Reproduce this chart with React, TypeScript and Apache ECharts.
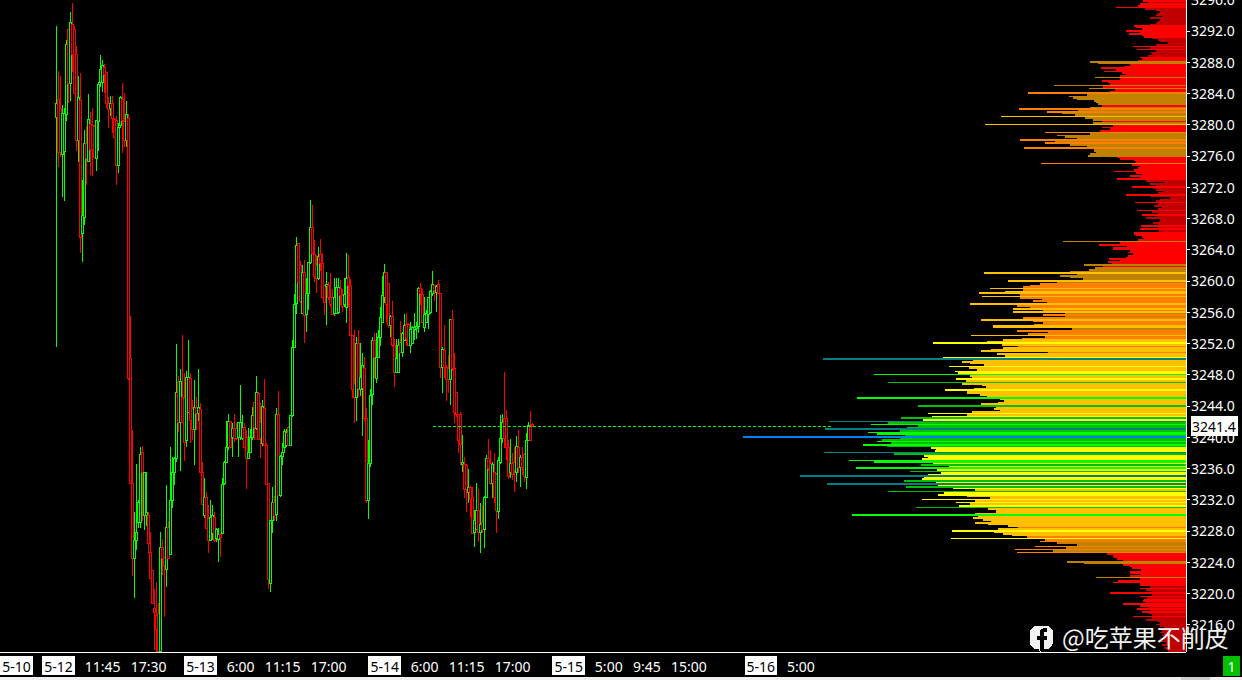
import React, { useEffect, useRef } from "react";
import * as echarts from "echarts";

// Time-axis ticks: slot on the 2px-per-bar category axis, and its text
const tickSlots = [8, 29, 51, 74, 100, 120, 141, 164, 192, 212, 233, 256, 284, 304, 323, 344, 380, 400];
const tickTexts = ["5-10", "5-12", "11:45", "17:30", "5-13", "6:00", "11:15", "17:00", "5-14", "6:00", "11:15", "17:00", "5-15", "5:00", "9:45", "15:00", "5-16", "5:00"];
const dateTicks = ["5-10", "5-12", "5-13", "5-14", "5-15", "5-16"];
const slotCount = 593;
const firstCandleSlot = 28;

const priceTicks = [3216, 3220, 3224, 3228, 3232, 3236, 3240, 3244, 3248, 3252, 3256, 3260, 3264, 3268, 3272, 3276, 3280, 3284, 3288, 3292, 3296];
const lastPrice = 3241.4;
const lastLineSlots = [216, 415];

// open, close, low, high
const candles: number[][] = [
  [3280.9,3282.7,3251.5,3292.6],[3283.2,3276.4,3274.5,3286.9],[3282.1,3276.4,3275.9,3286.2],[3276.1,3281.4,3270.7,3282.5],
  [3276.6,3281.4,3270.2,3282.1],[3281.3,3290.3,3280.4,3290.8],[3292.1,3285.3,3282.7,3292.1],[3285.3,3293.0,3283.0,3294.4],
  [3292.8,3288.9,3286.7,3295.5],[3292.2,3284.0,3284.0,3292.6],[3288.9,3277.9,3276.6,3290.0],[3277.9,3283.4,3275.2,3286.2],
  [3283.1,3265.6,3263.6,3286.6],[3266.1,3268.4,3262.4,3272.9],[3268.1,3277.6,3267.1,3279.3],[3277.6,3275.7,3272.2,3279.8],
  [3275.3,3280.7,3275.2,3283.9],[3280.0,3276.8,3273.5,3281.6],[3279.9,3276.8,3273.4,3282.1],[3279.8,3275.8,3275.8,3279.9],
  [3275.7,3280.5,3274.1,3280.5],[3280.4,3285.1,3276.6,3285.4],[3285.4,3287.1,3284.8,3288.9],[3285.4,3287.6,3284.1,3288.2],
  [3287.3,3286.4,3284.0,3287.7],[3286.6,3282.7,3282.1,3286.6],[3282.7,3281.9,3279.6,3283.5],[3282.1,3282.7,3281.1,3283.7],
  [3282.7,3280.8,3278.9,3283.6],[3280.7,3278.4,3278.4,3280.8],[3280.5,3274.8,3272.2,3281.1],[3274.8,3279.6,3273.8,3280.2],
  [3279.9,3283.4,3279.6,3283.6],[3283.2,3280.5,3276.3,3285.3],[3280.4,3277.9,3277.1,3284.0],[3278.0,3281.3,3277.1,3283.0],
  [3280.8,3247.5,3247.3,3281.4],[3250.1,3234.1,3234.1,3255.5],[3234.1,3224.5,3222.2,3240.9],[3224.5,3226.8,3219.4,3230.4],
  [3226.8,3227.8,3225.5,3236.5],[3229.0,3231.6,3228.3,3231.9],[3229.1,3237.8,3228.3,3238.7],[3238.0,3235.4,3229.3,3238.8],
  [3230.0,3235.4,3228.1,3235.4],[3230.0,3230.4,3228.6,3235.5],[3229.9,3226.4,3225.2,3230.4],[3225.2,3221.9,3221.9,3227.8],
  [3222.9,3218.7,3218.7,3222.9],[3218.1,3217.6,3212.7,3220.6],[3217.2,3215.3,3212.5,3221.4],[3217.4,3212.5,3212.5,3218.8],
  [3212.5,3225.9,3212.5,3227.8],[3225.8,3224.5,3222.3,3227.0],[3224.6,3223.6,3216.9,3224.6],[3223.1,3228.4,3220.8,3233.8],
  [3228.4,3224.5,3224.5,3229.3],[3224.9,3231.9,3224.9,3238.7],[3231.9,3235.4,3230.9,3237.4],[3235.4,3237.3,3233.8,3237.4],
  [3237.3,3245.7,3236.8,3251.9],[3247.0,3241.9,3240.6,3247.8],[3241.9,3247.1,3235.6,3248.7],[3245.0,3241.9,3241.8,3253.0],
  [3245.0,3239.3,3236.9,3248.2],[3239.5,3247.6,3238.7,3248.5],[3243.2,3247.6,3243.2,3252.4],[3247.5,3242.1,3239.2,3248.2],
  [3243.7,3241.0,3239.6,3244.7],[3241.0,3243.8,3236.4,3247.3],[3243.8,3243.0,3240.9,3245.1],[3243.0,3243.8,3242.1,3248.7],
  [3243.5,3235.4,3235.4,3244.4],[3235.4,3231.3,3231.3,3236.8],[3230.0,3232.2,3229.6,3234.7],[3232.2,3228.3,3228.3,3232.9],
  [3229.6,3226.7,3225.1,3231.3],[3226.7,3229.7,3226.7,3231.9],[3227.7,3229.9,3226.8,3231.3],[3229.7,3226.7,3226.5,3230.4],
  [3227.0,3228.1,3226.5,3228.4],[3226.9,3227.5,3224.0,3228.4],[3227.5,3227.2,3224.6,3227.7],[3227.7,3233.9,3227.7,3234.7],
  [3234.1,3236.8,3233.9,3236.9],[3236.8,3238.7,3236.8,3242.1],[3238.7,3242.0,3238.3,3243.0],[3242.0,3238.7,3238.7,3242.1],
  [3240.0,3241.1,3237.4,3241.8],[3241.1,3239.8,3239.3,3242.9],[3241.1,3239.8,3239.6,3241.8],[3240.0,3241.9,3237.5,3241.9],
  [3240.0,3241.8,3239.6,3246.7],[3239.8,3241.2,3239.6,3242.8],[3241.2,3238.7,3238.7,3241.8],[3240.0,3237.3,3233.3,3240.9],
  [3237.3,3238.0,3237.3,3241.1],[3238.0,3240.0,3237.9,3241.0],[3240.0,3242.8,3239.6,3243.8],[3244.4,3241.2,3239.6,3244.4],
  [3241.1,3245.7,3240.9,3247.8],[3245.6,3239.7,3239.6,3245.7],[3241.8,3239.8,3237.3,3244.4],[3239.2,3243.9,3238.9,3244.7],
  [3243.7,3238.9,3238.9,3247.4],[3238.9,3233.9,3233.8,3239.2],[3234.1,3221.8,3220.5,3234.1],[3221.3,3229.3,3220.1,3229.3],
  [3229.3,3231.6,3227.7,3233.6],[3231.6,3230.0,3229.3,3232.5],[3230.1,3242.9,3229.3,3243.7],[3242.9,3232.5,3232.5,3245.9],
  [3232.5,3237.5,3232.3,3237.7],[3237.5,3238.0,3236.4,3239.2],[3238.7,3240.7,3238.0,3241.0],[3238.9,3240.6,3238.7,3241.0],
  [3241.2,3238.9,3238.9,3241.4],[3238.9,3242.7,3238.9,3242.7],[3242.7,3251.4,3242.5,3252.4],[3251.5,3257.0,3251.5,3258.3],
  [3257.1,3264.5,3255.8,3265.6],[3264.8,3259.8,3259.8,3264.8],[3261.9,3257.4,3257.1,3262.5],[3255.8,3261.0,3255.8,3262.0],
  [3261.0,3255.6,3252.0,3262.6],[3255.7,3258.4,3253.4,3260.4],[3258.4,3262.4,3256.3,3262.4],[3262.4,3266.8,3262.2,3270.4],
  [3266.8,3263.5,3263.5,3269.7],[3263.3,3260.6,3259.8,3265.2],[3261.9,3260.3,3258.4,3263.3],[3260.3,3263.1,3260.1,3264.3],
  [3263.3,3262.2,3261.3,3265.3],[3262.2,3257.9,3257.8,3263.6],[3259.4,3257.2,3255.6,3259.4],[3259.3,3259.5,3254.3,3261.1],
  [3259.4,3257.9,3257.5,3259.8],[3257.9,3256.9,3256.6,3261.0],[3257.9,3255.7,3255.6,3259.0],[3255.8,3257.9,3255.5,3260.3],
  [3255.8,3259.2,3255.8,3260.4],[3256.0,3259.2,3255.8,3260.4],[3259.0,3258.1,3256.9,3260.1],[3258.1,3256.7,3256.0,3258.9],
  [3256.9,3258.3,3256.6,3260.3],[3256.6,3260.3,3254.6,3263.5],[3260.4,3259.4,3256.6,3263.3],[3259.4,3253.0,3253.0,3260.2],
  [3253.0,3246.1,3245.0,3253.0],[3246.9,3245.1,3241.8,3253.7],[3245.1,3252.0,3242.1,3252.8],[3252.0,3246.2,3245.1,3253.7],
  [3246.1,3247.6,3245.3,3252.0],[3246.2,3249.1,3240.1,3250.8],[3248.8,3242.4,3242.1,3250.2],[3242.4,3231.9,3231.5,3243.7],
  [3231.9,3236.6,3229.5,3239.6],[3236.6,3245.3,3236.1,3246.1],[3245.5,3252.4,3244.1,3252.8],[3252.4,3250.2,3247.5,3253.3],
  [3247.5,3250.2,3246.9,3253.3],[3250.2,3252.8,3250.2,3253.7],[3252.8,3255.3,3251.7,3256.7],[3254.7,3258.1,3254.7,3260.6],
  [3257.9,3261.1,3257.1,3262.1],[3261.0,3256.9,3254.7,3261.1],[3259.7,3254.3,3253.9,3259.7],[3254.3,3255.4,3252.8,3255.6],
  [3255.4,3251.7,3251.5,3257.4],[3251.7,3248.2,3246.4,3252.6],[3248.3,3250.1,3248.2,3252.6],[3248.3,3251.7,3248.2,3252.6],
  [3252.1,3250.8,3250.7,3254.8],[3250.8,3253.3,3250.3,3253.4],[3252.3,3254.3,3252.3,3255.7],[3254.4,3252.6,3251.7,3255.9],
  [3254.4,3251.7,3251.7,3254.6],[3251.7,3253.7,3250.8,3254.7],[3252.0,3254.0,3252.0,3254.2],[3253.7,3254.0,3252.4,3255.9],
  [3253.9,3254.2,3252.6,3254.7],[3254.2,3259.0,3253.3,3259.2],[3259.0,3258.4,3256.9,3259.7],[3258.3,3254.6,3254.6,3259.0],
  [3254.0,3255.7,3253.4,3257.9],[3254.7,3255.8,3254.6,3256.3],[3255.7,3257.9,3253.8,3257.9],[3256.0,3258.6,3255.7,3258.8],
  [3258.4,3259.5,3258.1,3261.3],[3259.4,3258.8,3257.4,3259.5],[3258.5,3259.3,3256.0,3259.4],[3259.5,3258.4,3258.4,3260.1],
  [3258.4,3248.9,3247.6,3258.4],[3248.9,3251.2,3245.6,3251.5],[3251.1,3248.9,3247.6,3254.3],[3248.9,3247.3,3244.6,3249.2],
  [3248.8,3247.3,3245.6,3250.5],[3247.3,3255.1,3244.1,3255.1],[3255.1,3248.8,3248.5,3256.2],[3248.8,3243.2,3241.8,3250.8],
  [3245.7,3242.9,3242.5,3245.7],[3242.9,3239.6,3238.0,3243.0],[3242.9,3239.1,3236.4,3243.2],[3236.5,3236.8,3235.5,3240.3],
  [3236.5,3233.3,3232.2,3237.4],[3236.4,3233.3,3230.4,3236.6],[3232.9,3233.6,3231.6,3235.9],[3233.6,3232.0,3229.7,3233.7],
  [3232.3,3227.7,3227.7,3233.6],[3227.8,3229.3,3225.9,3230.6],[3228.1,3230.6,3228.1,3234.1],[3230.6,3227.8,3226.5,3233.4],
  [3227.8,3228.8,3225.2,3231.5],[3229.0,3228.1,3227.7,3231.3],[3228.2,3232.3,3225.8,3232.4],[3232.3,3237.3,3232.2,3237.7],
  [3237.3,3236.0,3235.7,3239.8],[3236.6,3234.1,3233.8,3238.4],[3234.1,3236.5,3232.2,3236.8],[3235.4,3232.2,3231.5,3237.9],
  [3235.2,3230.6,3227.7,3235.4],[3230.5,3237.0,3229.5,3237.4],[3236.8,3239.8,3236.6,3242.8],[3239.8,3241.9,3239.2,3243.0],
  [3242.4,3239.8,3238.6,3248.3],[3242.4,3238.7,3237.0,3243.5],[3238.7,3235.0,3234.6,3239.6],[3235.4,3236.6,3234.8,3239.7],
  [3236.6,3235.2,3234.5,3237.9],[3236.8,3235.7,3232.9,3238.7],[3235.4,3238.8,3234.2,3240.1],[3238.7,3236.1,3235.4,3240.9],
  [3236.1,3237.4,3233.6,3237.7],[3237.4,3236.1,3235.1,3238.7],[3237.7,3235.0,3234.3,3238.0],[3234.8,3239.5,3233.3,3240.5],
  [3239.5,3241.5,3239.5,3241.9],[3241.4,3239.6,3239.5,3243.3],[3241.6,3241.4,3241.3,3241.8],
];

// Volume at each 0.2 price step, from the top level down (five per whole price)
const topLevel = 3296;
const levelStep = 0.2;
const profileVolumes = [
  42,43,38,46,48, 70,41,30,26,28, 30,24,36,26,28, 30,36,52,50,44, 60,46,57,44,42,
  34,28,26,18,30, 53,36,49,30,36, 34,38,46,44,48, 96,88,56,62,85, 70,82,64,60,66,
  91,66,84,78,76, 132,83,97,71,76, 158,99,117,113,109, 92,90,88,84,96, 167,108,139,124,111,
  185,101,93,84,93, 201,73,84,76,86, 141,96,129,121,109, 166,131,141,116,99, 162,92,92,90,96,
  98,69,66,52,50, 145,54,46,48,52, 72,50,44,56,46, 69,40,22,36,30, 54,33,30,23,28,
  60,36,16,26,30, 51,28,32,24,28, 49,34,28,44,28, 40,26,27,33,28, 45,28,46,27,52,
  52,50,44,42,48, 123,66,87,59,73, 73,56,58,53,58, 60,77,66,78,74, 102,83,91,97,116,
  202,109,126,116,103, 178,129,146,156,163, 196,163,181,207,166, 204,166,144,153,139, 216,169,156,173,143,
  173,121,143,121,163, 205,153,143,152,193, 193,114,169,138,158, 215,141,164,183,199, 253,184,168,183,195,
  205,138,189,181,243, 363,213,224,216,202, 237,217,209,231,228, 312,216,214,230,220, 298,224,204,200,212,
  241,219,219,206,199, 329,186,182,188,205, 268,190,192,186,214, 258,219,254,285,263, 357,298,315,268,279,
  361,286,318,309,281, 443,286,304,309,295, 323,299,255,250,251, 362,292,262,258,264, 337,312,253,265,237,
  330,249,276,245,258, 386,262,264,282,250, 359,248,280,233,211, 298,242,248,219,196, 264,211,230,216,227,
  270,198,190,190,211, 334,208,213,203,195, 211,198,178,168,188, 234,192,183,174,159, 235,141,146,129,109,
  151,120,171,133,169, 79,73,72,69,63, 119,102,63,56,54, 45,56,56,46,56, 90,46,68,73,46,
  46,36,46,40,34, 76,34,46,39,42, 43,40,63,46,38, 49,36,44,38,34, 53,34,40,29,26,
  30,26,22,28,24, 26,22,24,20,26, 22,28,20,24,18, 22,20,18,
];

const volumeBands: [number, string][] = [
  [42, "#c00000"], [88, "#ff0000"], [136, "#c08000"], [172, "#ff8000"], [225, "#ffc000"],
  [265, "#ffff00"], [305, "#00c000"], [345, "#00ff00"], [400, "#008080"], [Infinity, "#0080ff"],
];

const watermark = "@吃苹果不削皮";
const pageBadge = "1";

const FB_F = "M13.2 25V14.2h3.3l.6-4h-3.9V7.9c0-1.2.4-2 2-2h2.1V2.4c-.4 0-1.6-.2-3-.2-3 0-5.1 1.900-5.100 5.200v2.800H6v4h3.200V25z";

const FONT = '"Noto Sans", sans-serif';

export default function App() {
  const ref = useRef<HTMLDivElement>(null);
  useEffect(() => {
    document.documentElement.style.background = "#000";
    document.body.style.margin = "0";
    document.body.style.overflow = "hidden";
    echarts.graphic.registerShape("fbF", echarts.graphic.extendPath(FB_F, {}));
    const chart = echarts.init(ref.current!, undefined, { renderer: "svg", width: 1242, height: 680 });

    const slotText = new Array(slotCount).fill("");
    tickSlots.forEach((s, i) => { slotText[s] = `${s}|${tickTexts[i]}`; });
    const isTick = (i: number) => slotText[i] !== "";
    const levels = profileVolumes.map((_, i) => (topLevel - i * levelStep).toFixed(1));
    const colourFor = (v: number) => volumeBands.find((b) => v < b[0])![1];

    chart.setOption({
      animation: false,
      backgroundColor: "#000",
      grid: [
        { left: -0.5, top: -0.5, width: 1186.5, height: 652.5, outerBoundsMode: "none" },
        { left: -0.5, top: -1.28, width: 1186.5, height: 653.125, outerBoundsMode: "none" },
      ],
      xAxis: [
        {
          type: "category",
          gridIndex: 0,
          data: slotText,
          boundaryGap: true,
          axisLine: { lineStyle: { color: "#fff", width: 1 } },
          axisTick: { alignWithLabel: true, interval: (i: number) => isTick(i), length: 3, lineStyle: { color: "#fff" } },
          axisLabel: {
            interval: (i: number) => isTick(i),
            margin: 6,
            formatter: (v: string) => {
              const t = v.split("|")[1] ?? "";
              return dateTicks.includes(t) ? `{d|${t}}` : `{t|${t}}`;
            },
            rich: {
              d: { color: "#000", backgroundColor: "#fff", fontFamily: FONT, fontSize: 14, padding: [3, 2, 2, 2], lineHeight: 15 },
              t: { color: "#fff", fontFamily: FONT, fontSize: 14, padding: [3, 0, 2, 0], lineHeight: 15 },
            },
          },
          splitLine: { show: false },
        },
        { type: "value", gridIndex: 1, show: false, inverse: true, min: 0, max: 1186.5, splitLine: { show: false } },
      ],
      yAxis: [
        {
          type: "value",
          gridIndex: 0,
          position: "right",
          min: 3212.48,
          max: 3296,
          scale: true,
          axisLine: { show: true, lineStyle: { color: "#fff", width: 1 } },
          axisTick: { show: true, length: 4, customValues: priceTicks, lineStyle: { color: "#fff" } },
          axisLabel: {
            show: true,
            customValues: [...priceTicks, lastPrice],
            margin: 5,
            color: "#fff",
            fontFamily: FONT,
            fontSize: 14,
            formatter: (v: number) => (v === lastPrice ? `{p|${v.toFixed(1)}}` : v.toFixed(1)),
            rich: {
              p: { color: "#000", backgroundColor: "#fff", fontFamily: FONT, fontSize: 14, padding: [3, 2, 3, 1], lineHeight: 14 },
            },
          },
          splitLine: { show: false },
        },
        { type: "category", gridIndex: 1, show: false, inverse: true, data: levels, boundaryGap: true },
      ],
      series: [
        {
          type: "bar",
          name: "Volume profile",
          xAxisIndex: 1,
          yAxisIndex: 1,
          data: profileVolumes,
          barWidth: "100%",
          barCategoryGap: 0,
          silent: true,
          itemStyle: { color: (p: any) => colourFor(p.value) },
          z: 1,
        },
        {
          type: "candlestick",
          name: "Price",
          xAxisIndex: 0,
          yAxisIndex: 0,
          barWidth: 3,
          encode: { x: 0, y: [1, 2, 3, 4] },
          data: candles.map((c, i) => [firstCandleSlot + i, ...c]),
          itemStyle: { color: "#000", color0: "#000", borderColor: "#00ff00", borderColor0: "#ff0000", borderWidth: 1 },
          silent: true,
          z: 2,
          markLine: {
            silent: true,
            symbol: "none",
            label: { show: false },
            lineStyle: { color: "#00ff00", type: [3, 2], width: 1 },
            data: [[{ coord: [lastLineSlots[0], lastPrice] }, { coord: [lastLineSlots[1], lastPrice] }]],
          },
        },
      ],
      graphic: [
        { type: "rect", z: 50, shape: { x: 0, y: 677, width: 1242, height: 3 }, style: { fill: "#f0f0f0" } },
        { type: "rect", z: 51, shape: { x: 1181, y: 677, width: 29, height: 3 }, style: { fill: "#cdcdcd" } },
        { type: "rect", z: 50, shape: { x: 1223, y: 656, width: 17, height: 20 }, style: { fill: "#00c000" } },
        { type: "text", z: 51, x: 1231.5, y: 666, style: { text: pageBadge, fill: "#fff", font: `14px ${FONT}`, textAlign: "center", textVerticalAlign: "middle" } },
        { type: "rect", z: 60, shape: { x: 1030, y: 626, width: 23, height: 23, r: 7 }, style: { fill: "#f2f2f2" } },
        { type: "polygon", z: 60, shape: { points: [[1038, 646], [1046, 646], [1040, 653]] }, style: { fill: "#f2f2f2" } },
        { type: "fbF", z: 61, x: 1031, y: 626, scaleX: 0.95, scaleY: 0.98, style: { fill: "#000" } },
        { type: "text", z: 60, x: 1062, y: 636, style: { text: watermark, fill: "#f2f2f2", font: `24px "Noto Sans CJK SC", sans-serif`, textVerticalAlign: "middle" } },
      ],
    });
    return () => chart.dispose();
  }, []);
  return (
    <>
      <style>{`.pchart svg path{shape-rendering:crispEdges}`}</style>
      <div ref={ref} className="pchart" style={{ width: 1242, height: 680 }} />
    </>
  );
}
